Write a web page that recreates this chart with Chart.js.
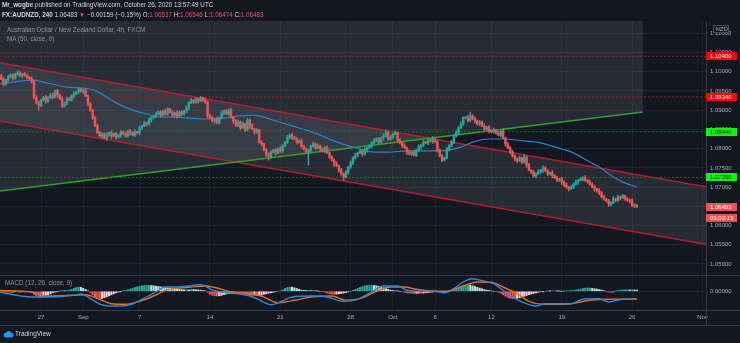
<!DOCTYPE html>
<html>
<head>
<meta charset="utf-8">
<script src="https://cdn.jsdelivr.net/npm/chart.js@4.4.0/dist/chart.umd.min.js"></script>
<style>
  html, body { margin: 0; padding: 0; background: #131722; }
  #wrap { position: relative; width: 740px; height: 343px; overflow: hidden; background: #131722;
          font-family: "Liberation Sans", Arial, sans-serif; }
  #priceBox { position: absolute; left: 0; top: 0; width: 740px; height: 275px; }
  #macdBox { position: absolute; left: 0; top: 275px; width: 740px; height: 68px; }
  .txt { position: absolute; white-space: nowrap; font-size: 6.3px; line-height: 8px; color: #d1d4dc; }
  .dn { color: #ef5350; }
  .muted { color: #8f929c; }
  #logo { position: absolute; left: 3px; top: 330px; }
</style>
</head>
<body>
<div id="wrap">
  <div id="priceBox"><canvas id="priceChart" width="740" height="275"></canvas></div>
  <div id="macdBox"><canvas id="macdChart" width="740" height="68"></canvas></div>

  <div class="txt" style="left:2px; top:1px;"><b>Mr_wogbe</b> published on TradingView.com, October 26, 2020 13:57:49 UTC</div>
  <div class="txt" style="left:2px; top:11px;"><b>FX:AUDNZD, 240</b> 1.06483 <span class="dn">&#9660;</span> &minus;0.00159 (&minus;0.15%) O:<span class="dn">1.06537</span> H:<span class="dn">1.06546</span> L:<span class="dn">1.06474</span> C:<span class="dn">1.06483</span></div>
  <div class="txt muted" style="left:7px; top:26px;">Australian Dollar / New Zealand Dollar, 4h, FXCM</div>
  <div class="txt muted" style="left:7px; top:35px;">MA (50, close, 0)</div>
  <div class="txt muted" style="left:5px; top:279px;">MACD (12, 26, close, 9)</div>

  <svg id="logo" width="11" height="8" viewBox="0 0 11 8">
    <path d="M2.5 7.5 H8.5 A2.2 2.2 0 0 0 8.6 3.1 A3 3 0 0 0 3 2.6 A2.5 2.5 0 0 0 2.5 7.5 Z" fill="#2196f3"/>
  </svg>
  <div class="txt" style="left:15px; top:330px; font-size:6.5px;">TradingView</div>
</div>

<script>
// AUD/NZD 4h bars, indexed from the Monday session that opens the visible range
const firstBar = 1;
const firstOpen = 1.0990;
const closes = [
  1.0981, 1.0968, 1.0978, 1.0986, 1.0991, 1.0984, 1.0994, 1.0997, 1.0989, 1.0994,
  1.0991, 1.0986, 1.0981, 1.0976, 1.0932, 1.0921, 1.0913, 1.0926, 1.0934, 1.0924,
  1.0932, 1.0939, 1.0934, 1.0950, 1.0939, 1.0929, 1.0911, 1.0919, 1.0929, 1.0926,
  1.0937, 1.0942, 1.0947, 1.0955, 1.0950, 1.0952, 1.0937, 1.0916, 1.0900, 1.0880,
  1.0859, 1.0843, 1.0833, 1.0838, 1.0828, 1.0835, 1.0841, 1.0833, 1.0838, 1.0830,
  1.0835, 1.0843, 1.0838, 1.0833, 1.0846, 1.0841, 1.0835, 1.0843, 1.0841, 1.0854,
  1.0859, 1.0867, 1.0864, 1.0874, 1.0880, 1.0885, 1.0890, 1.0895, 1.0887, 1.0898,
  1.0890, 1.0903, 1.0895, 1.0887, 1.0893, 1.0885, 1.0895, 1.0890, 1.0898, 1.0906,
  1.0919, 1.0926, 1.0921, 1.0929, 1.0924, 1.0932, 1.0926, 1.0921, 1.0885, 1.0880,
  1.0872, 1.0877, 1.0867, 1.0880, 1.0893, 1.0898, 1.0890, 1.0900, 1.0882, 1.0872,
  1.0861, 1.0869, 1.0854, 1.0864, 1.0848, 1.0874, 1.0859, 1.0851, 1.0843, 1.0848,
  1.0817, 1.0812, 1.0796, 1.0786, 1.0778, 1.0791, 1.0796, 1.0789, 1.0799, 1.0794,
  1.0807, 1.0817, 1.0828, 1.0835, 1.0830, 1.0825, 1.0817, 1.0820, 1.0807, 1.0799,
  1.0791, 1.0796, 1.0807, 1.0812, 1.0802, 1.0807, 1.0799, 1.0794, 1.0802, 1.0789,
  1.0778, 1.0770, 1.0760, 1.0755, 1.0744, 1.0734, 1.0726, 1.0739, 1.0752, 1.0763,
  1.0776, 1.0783, 1.0789, 1.0794, 1.0786, 1.0796, 1.0802, 1.0807, 1.0815, 1.0820,
  1.0825, 1.0817, 1.0828, 1.0833, 1.0841, 1.0825, 1.0830, 1.0838, 1.0841, 1.0822,
  1.0815, 1.0807, 1.0802, 1.0791, 1.0786, 1.0791, 1.0783, 1.0796, 1.0804, 1.0809,
  1.0817, 1.0815, 1.0822, 1.0820, 1.0825, 1.0817, 1.0796, 1.0781, 1.0770, 1.0776,
  1.0799, 1.0807, 1.0817, 1.0833, 1.0843, 1.0854, 1.0864, 1.0880, 1.0882, 1.0874,
  1.0885, 1.0877, 1.0872, 1.0864, 1.0869, 1.0859, 1.0851, 1.0856, 1.0846, 1.0843,
  1.0848, 1.0841, 1.0835, 1.0846, 1.0828, 1.0812, 1.0802, 1.0791, 1.0781, 1.0773,
  1.0768, 1.0776, 1.0765, 1.0778, 1.0757, 1.0744, 1.0739, 1.0729, 1.0734, 1.0739,
  1.0744, 1.0750, 1.0742, 1.0734, 1.0737, 1.0729, 1.0724, 1.0718, 1.0721, 1.0713,
  1.0705, 1.0700, 1.0695, 1.0700, 1.0708, 1.0713, 1.0718, 1.0721, 1.0724, 1.0718,
  1.0713, 1.0708, 1.0700, 1.0695, 1.0690, 1.0685, 1.0674, 1.0669, 1.0664, 1.0656,
  1.0659, 1.0669, 1.0666, 1.0674, 1.0672, 1.0677, 1.0669, 1.0666, 1.0664, 1.0651,
  1.06537, 1.06483
];
// wick lengths in pips beyond the candle body, one base-36 digit per bar
const wickUp = [
  '3425342632', '4325263324', '3452436254', '3624235242', '3524362534', '2435243625', '3426325342',
  '5324263425', '3524342635', '4253624352', '4635243624', '3425342536', '4263524352', '4325362435',
  '2436253425', '3524362437', '3426754352', '4362534263', '5243625342', '4352436325', 'a352436243',
  '5243624352', '3426352436', '2534263425', '3624352436', '2534263524', '3625342436', '31'
].join('');
const wickDn = [
  '2534263425', '342635d436', '4253624352', '3524362534', '2436263625', '3524362435', '4263524352',
  '3425362435', '5243624352', '3624352436', '4352436253', '3426843524', '5243625342', '2y53426352',
  '4362538263', '5342635243', '2536243526', '3426352436', '4253625342', '3524362435', '4263524352',
  '3425362435', '5243624352', '3624352436', '4352436253', '3426352436', '5243624352', '41'
].join('');

// MA (50) as drawn
const maBars = [0.5, 15, 19, 29, 35, 39, 43, 50, 57, 63, 69, 74, 80, 89, 97, 103, 108, 111, 117, 124,
  131, 137, 142, 148, 154, 160, 166, 174, 180, 188, 192, 197, 202, 209, 215, 224, 231, 240, 245, 252,
  256, 262, 266, 272];
const maValues = [1.0968, 1.0978, 1.0973, 1.0960, 1.0958, 1.0955, 1.0945, 1.0919, 1.0900, 1.0890,
  1.0882, 1.0882, 1.0880, 1.0877, 1.0880, 1.0885, 1.0887, 1.0885, 1.0874, 1.0861,
  1.0848, 1.0835, 1.0822, 1.0809, 1.0799, 1.0791, 1.0791, 1.0794, 1.0794, 1.0794,
  1.0796, 1.0804, 1.0817, 1.0825, 1.0825, 1.0820, 1.0815, 1.0799, 1.0789, 1.0765,
  1.0752, 1.0726, 1.0713, 1.0700];

// drawings: descending channel, rising support line, marked levels
const channelTop = [[0.5, 1.1023], [301.5, 1.0701]];
const channelBottom = [[0.5, 1.0872], [301.5, 1.0551]];
const supportLine = [[0.5, 1.0690], [274.6, 1.0895]];
const levelPrices = [1.10400, 1.09340, 1.08440, 1.07250];
const levelKinds = ['res', 'res', 'sup', 'sup'];
const lastPrice = 1.06483;
const barCountdown = '03:02:13';

// MACD (12, 26, 9), values in 1e-5
const macdBars = [0, 14, 20, 33, 35, 40, 43, 47, 52, 57, 63, 67, 71, 75, 81, 85, 88, 91, 97, 102,
  107, 110, 116, 120, 125, 133, 140, 147, 153, 159, 164, 170, 174, 180, 186, 190, 194, 198, 202, 207,
  211, 215, 219, 223, 229, 233, 238, 244, 250, 256, 260, 266, 272];
const macdValues = [-7, -57, -57, -37, -27, -87, -127, -147, -147, -127, -57, -7, 43, 43, 53, 66, 53, 13, -14, -24,
  -47, -74, -134, -107, -57, -47, -57, -100, -80, -7, 53, 53, 10, 0, 0, -14, 26, 93, 126, 100,
  76, 10, -57, -107, -147, -124, -124, -124, -74, -74, -107, -80, -80];
const signalBars = [0, 14, 21, 31, 37, 43, 48, 54, 60, 66, 71, 77, 82, 88, 93, 99, 107, 112, 119, 126,
  133, 142, 148, 154, 161, 167, 173, 178, 186, 191, 197, 204, 210, 215, 221, 226, 232, 238, 244, 252,
  259, 266, 272];
const signalValues = [10, -7, -47, -40, -34, -80, -124, -130, -100, -47, 10, 33, 43, 53, 33, -7, -24, -47, -114, -90,
  -57, -47, -90, -74, 0, 43, 43, 20, 0, 0, 43, 93, 88, 43, -24, -100, -130, -130, -124, -90,
  -80, -80, -74];
const histValues = [
  -8, -5, -10, -6, -12, -8, -4, -6, -10, -5, -8, -3, -6, -10,
  -30, -45, -55, -57, -50, -42, -35, -25, -15,
  -8, -3, 2, 5, 3, 8, 12,
  20, 30, 38, 43, 40, 30, 18,
  5,
  -15, -35, -55, -68, -73, -72, -65, -55, -45, -35, -25, -15,
  -8, -3, 3, 8,
  15, 22, 30, 38, 45, 50, 55, 58, 60, 60, 58, 55, 52, 48, 45, 42, 38, 35, 32, 28, 25, 22, 20, 18, 15,
  18, 15, 20, 18, 16, 14, 12, 8, 5,
  -10, -25, -38, -45, -47, -45, -40, -33, -27, -22, -18, -15,
  -15, -18, -20,
  -25, -30, -35, -40, -40, -38, -40, -38, -35, -30, -25, -20, -15, -10, -5,
  0, 5,
  15, 28, 38, 43, 42, 35, 28, 20, 12,
  10, 8, 10, 7, 8, 5, 3, 0, -3,
  -10, -18, -25, -28, -30, -28, -25, -22, -18, -12, -6, 0,
  10, 20, 30, 40, 48, 55, 58, 60, 60, 58, 55, 50, 42, 35, 28, 20, 12,
  8, 5, 3, 0, -5, -10,
  -15, -18, -20, -22, -20, -18, -20, -17, -15, -12, -10, -8, -5, -3,
  -5, -8, -5, 0, 5, 10, 15,
  25, 38, 50, 60, 65, 65, 62, 55, 48, 40, 32, 25, 18, 12, 8,
  5, 0, -5, -10,
  -20, -35, -50, -62, -70, -73, -73, -70, -65, -58, -50, -42, -35, -28, -22, -15, -10,
  -5, -3, 0, 3, 2, 4, 5, 3, 2, 0, 2, 4, 5, 8, 10, 12,
  18, 22, 28, 32, 33, 33, 30, 26, 22, 18, 12, 6,
  -3, -8, -10, -6,
  4, 8, 12, 14, 15, 15, 14, 15, 14, 13
];

// time axis
const dateTickBars = [18, 36, 60, 90, 120, 150, 168, 186, 210, 240, 270, 300];
const dateTickLabels = ['27', 'Sep', '7', '14', '21', '28', 'Oct', '6', '12', '19', '26', 'Nov'];
const priceTicks = [1.050, 1.055, 1.060, 1.065, 1.070, 1.075, 1.080, 1.085, 1.090, 1.095, 1.100, 1.105, 1.110];

const X_MIN = 0.5, X_MAX = 301.5;
const UP = '#26a69a', DOWN = '#ef5350';
const AXIS_TEXT = '#a6a9b2';
const GRID = 'rgba(54, 58, 69, 0.35)';
const FRAME = '#363a45';
const SHADE = 'rgba(120, 123, 134, 0.2)';
const PIP = 0.0001;

Chart.defaults.font.family = '"Liberation Sans", Arial, sans-serif';

const opens = closes.map((c, i) => i === 0 ? firstOpen : closes[i - 1]);
const highs = closes.map((c, i) => Math.max(opens[i], c) + parseInt(wickUp[i], 36) * PIP);
const lows = closes.map((c, i) => Math.min(opens[i], c) - parseInt(wickDn[i], 36) * PIP);
const candleColors = closes.map((c, i) => c >= opens[i] ? UP : DOWN);

const pts = arr => arr.map(p => ({ x: p[0], y: p[1] }));

function squeezeAxis(size) {
  return scale => {
    if (scale.isHorizontal()) scale.height = size; else scale.width = size;
    scale.paddingTop = scale.paddingBottom = scale.paddingLeft = scale.paddingRight = 0;
  };
}
const dateTicks = scale => { scale.ticks = dateTickBars.map(v => ({ value: v })); };

const priceLabels = {
  id: 'priceLabels',
  afterDraw(chart) {
    const { ctx, chartArea: area, scales: { y } } = chart;
    ctx.save();
    ctx.strokeStyle = FRAME;
    ctx.lineWidth = 1;
    ctx.beginPath();
    ctx.moveTo(area.right + 0.5, area.top);
    ctx.lineTo(area.right + 0.5, chart.height);
    ctx.stroke();

    ctx.font = '6px "Liberation Sans", Arial, sans-serif';
    ctx.textBaseline = 'middle';
    const tag = (py, bg, fg, text) => {
      ctx.fillStyle = bg;
      ctx.fillRect(area.right, Math.round(py) - 4, 31, 8);
      ctx.fillStyle = fg;
      ctx.fillText(text, area.right + 4, Math.round(py) + 0.5);
    };
    levelPrices.forEach((p, i) => {
      const res = levelKinds[i] === 'res';
      tag(y.getPixelForValue(p), res ? '#ff0000' : '#00ff00', res ? '#ffffff' : '#131722', p.toFixed(5));
    });
    const ly = y.getPixelForValue(lastPrice);
    tag(ly, DOWN, '#ffffff', lastPrice.toFixed(5));
    tag(ly + 11, DOWN, '#ffffff', barCountdown);

    // currency badge
    ctx.fillStyle = '#131722';
    ctx.fillRect(area.right + 7, 25, 16, 8);
    ctx.strokeStyle = '#4a4e5a';
    ctx.strokeRect(area.right + 7.5, 25.5, 15, 7);
    ctx.fillStyle = AXIS_TEXT;
    ctx.fillText('NZD', area.right + 9.5, 29.5);
    ctx.restore();
  }
};

const macdFrame = {
  id: 'macdFrame',
  afterDraw(chart) {
    const { ctx, chartArea: area } = chart;
    ctx.save();
    ctx.strokeStyle = FRAME;
    ctx.lineWidth = 1;
    ctx.beginPath();
    [area.top + 0.5, area.bottom + 0.5, area.bottom + 15.5].forEach(yy => {
      ctx.moveTo(0, yy);
      ctx.lineTo(chart.width, yy);
    });
    ctx.moveTo(area.right + 0.5, 0);
    ctx.lineTo(area.right + 0.5, area.bottom + 15.5);
    ctx.stroke();
    ctx.restore();
  }
};

const levelSets = levelPrices.map((p, i) => ({
  type: 'line',
  data: pts([[X_MIN, p], [X_MAX, p]]),
  borderColor: levelKinds[i] === 'res' ? '#9c1c1c' : '#1b6e28',
  borderWidth: 1,
  borderDash: [2, 2],
  pointRadius: 0,
  fill: false,
  order: 15
}));

new Chart(document.getElementById('priceChart'), {
  type: 'bar',
  data: {
    datasets: [
      { type: 'line', data: pts(channelBottom), borderColor: '#b2202c', borderWidth: 1.5,
        pointRadius: 0, fill: false, order: 20 },
      { type: 'line', data: pts(channelTop), borderColor: '#b2202c', borderWidth: 1.5,
        pointRadius: 0, fill: '-1', backgroundColor: SHADE, order: 19 },
      { type: 'line', data: pts(supportLine), borderColor: '#2aa52a', borderWidth: 1.5,
        pointRadius: 0, fill: 'end', backgroundColor: SHADE, order: 18 },
      ...levelSets,
      { type: 'line', data: maBars.map((b, i) => ({ x: b, y: maValues[i] })), borderColor: '#2a82cc',
        borderWidth: 1.2, pointRadius: 0, fill: false, cubicInterpolationMode: 'monotone', order: 5 },
      { data: closes.map((c, i) => ({ x: firstBar + i, y: [lows[i], highs[i]] })),
        backgroundColor: candleColors, barThickness: 0.9, grouped: false, order: 2 },
      { data: closes.map((c, i) => ({ x: firstBar + i, y: [opens[i], c] })),
        backgroundColor: candleColors, barThickness: 1.8, minBarLength: 1, grouped: false, order: 1 }
    ]
  },
  plugins: [priceLabels],
  options: {
    responsive: false,
    animation: false,
    layout: { padding: { top: 21, left: 0, right: 0, bottom: 0 } },
    plugins: {
      legend: { display: false },
      tooltip: { enabled: false },
      filler: { drawTime: 'beforeDatasetsDraw' }
    },
    scales: {
      x: {
        type: 'linear', min: X_MIN, max: X_MAX, offset: false,
        grid: { color: GRID, drawTicks: false, offset: false },
        border: { display: false },
        ticks: { display: false },
        afterBuildTicks: dateTicks,
        afterFit: squeezeAxis(0)
      },
      y: {
        position: 'right', min: 1.04714, max: 1.11318,
        grid: { color: GRID, drawTicks: false },
        border: { display: false },
        ticks: { color: AXIS_TEXT, font: { size: 6 }, padding: 4, callback: v => v.toFixed(5) },
        afterBuildTicks: scale => { scale.ticks = priceTicks.map(v => ({ value: v })); },
        afterFit: squeezeAxis(34)
      }
    }
  }
});

const histColors = histValues.map((h, i) => {
  const prev = i > 0 ? histValues[i - 1] : h;
  if (h >= 0) return h >= prev ? '#26a69a' : '#b2dfdb';
  return h <= prev ? '#ef5350' : '#ffcdd2';
});

new Chart(document.getElementById('macdChart'), {
  type: 'bar',
  data: {
    datasets: [
      { data: histValues.map((h, i) => ({ x: firstBar + i, y: h })), backgroundColor: histColors,
        barThickness: 1.5, grouped: false, order: 3 },
      { type: 'line', data: macdBars.map((b, i) => ({ x: b, y: macdValues[i] })), borderColor: '#2a8ad8',
        borderWidth: 1.4, pointRadius: 0, fill: false, cubicInterpolationMode: 'monotone', order: 1 },
      { type: 'line', data: signalBars.map((b, i) => ({ x: b, y: signalValues[i] })), borderColor: '#e0701a',
        borderWidth: 1.4, pointRadius: 0, fill: false, cubicInterpolationMode: 'monotone', order: 2 }
    ]
  },
  plugins: [macdFrame],
  options: {
    responsive: false,
    animation: false,
    layout: { padding: { top: 0, left: 0, right: 0, bottom: 18 } },
    plugins: { legend: { display: false }, tooltip: { enabled: false } },
    scales: {
      x: {
        type: 'linear', min: X_MIN, max: X_MAX, offset: false,
        grid: { color: GRID, drawTicks: false, offset: false },
        border: { display: false },
        ticks: { color: AXIS_TEXT, font: { size: 6 }, padding: 4, maxRotation: 0, autoSkip: false,
                 callback: (v, i) => dateTickLabels[i] },
        afterBuildTicks: dateTicks,
        afterFit: squeezeAxis(15)
      },
      y: {
        position: 'right', min: -187, max: 163,
        grid: { color: GRID, drawTicks: false },
        border: { display: false },
        ticks: { color: AXIS_TEXT, font: { size: 6 }, padding: 4, callback: v => (v * 1e-5).toFixed(5) },
        afterBuildTicks: scale => { scale.ticks = [{ value: 0 }]; },
        afterFit: squeezeAxis(34)
      }
    }
  }
});
</script>
</body>
</html>
